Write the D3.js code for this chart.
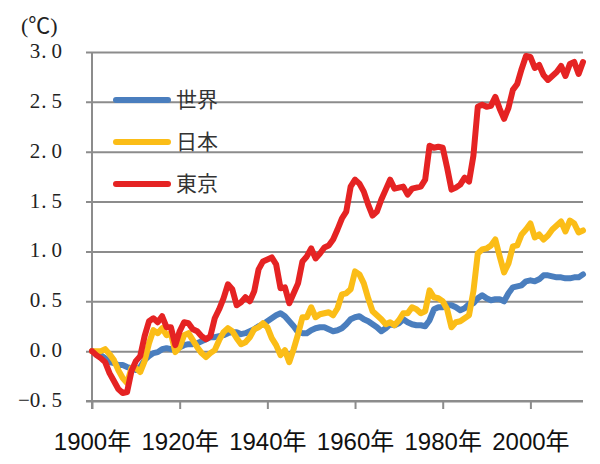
<!DOCTYPE html>
<html>
<head>
<meta charset="utf-8">
<script src="https://cdn.jsdelivr.net/npm/d3@7"></script>
<style>
html, body { margin: 0; padding: 0; background: #fff; }
svg { display: block; }
</style>
</head>
<body>
<svg id="chart" width="600" height="464"></svg>
<script>
const startYear = 1900;
const endYear = 2012;

const seriesNames = ["世界", "日本", "東京"];
const seriesColors = ["#4A7EBE", "#FBBD17", "#E52323"];

const world = [
  0.00,-0.01,-0.04,-0.07,-0.11,-0.12,-0.14,-0.14,-0.16,-0.17,
  -0.19,-0.16,-0.09,-0.05,-0.02,-0.01,0.02,0.03,0.02,0.01,
  0.04,0.06,0.07,0.07,0.08,0.10,0.12,0.14,0.14,0.15,
  0.16,0.18,0.19,0.19,0.17,0.18,0.20,0.22,0.25,0.27,
  0.30,0.33,0.36,0.38,0.35,0.30,0.25,0.19,0.18,0.18,
  0.21,0.23,0.24,0.24,0.22,0.20,0.21,0.23,0.27,0.32,
  0.34,0.35,0.32,0.30,0.27,0.24,0.20,0.23,0.27,0.26,
  0.28,0.32,0.29,0.27,0.26,0.26,0.25,0.31,0.42,0.44,
  0.44,0.46,0.46,0.44,0.41,0.43,0.47,0.48,0.53,0.56,
  0.53,0.51,0.52,0.52,0.50,0.58,0.64,0.65,0.66,0.70,
  0.71,0.70,0.72,0.76,0.76,0.75,0.74,0.74,0.73,0.73,
  0.74,0.74,0.77
];

const japan = [
  0.00,0.00,0.00,0.02,-0.03,-0.09,-0.19,-0.27,-0.32,-0.17,
  -0.17,-0.21,-0.10,0.08,0.21,0.18,0.23,0.16,0.18,-0.01,
  0.04,0.16,0.18,0.11,0.04,-0.02,-0.06,-0.02,0.01,0.11,
  0.19,0.23,0.20,0.13,0.07,0.09,0.14,0.22,0.24,0.28,
  0.24,0.13,0.06,-0.04,0.01,-0.11,0.02,0.17,0.34,0.34,
  0.44,0.34,0.37,0.38,0.39,0.36,0.43,0.57,0.58,0.62,
  0.80,0.77,0.68,0.53,0.40,0.36,0.32,0.27,0.29,0.26,
  0.31,0.38,0.38,0.44,0.42,0.38,0.40,0.61,0.54,0.53,
  0.50,0.42,0.24,0.29,0.30,0.33,0.36,0.60,0.98,1.02,
  1.03,1.06,1.12,0.95,0.79,0.88,1.05,1.06,1.17,1.22,
  1.28,1.14,1.17,1.12,1.16,1.22,1.26,1.30,1.20,1.31,
  1.28,1.19,1.21
];

const tokyo = [
  0.00,-0.04,-0.07,-0.11,-0.22,-0.30,-0.38,-0.42,-0.41,-0.20,
  -0.10,-0.05,0.15,0.30,0.33,0.29,0.35,0.24,0.24,0.06,
  0.20,0.29,0.28,0.22,0.20,0.15,0.12,0.15,0.33,0.42,
  0.53,0.67,0.62,0.46,0.49,0.54,0.50,0.60,0.82,0.90,
  0.92,0.94,0.87,0.63,0.64,0.48,0.58,0.68,0.90,0.95,
  1.03,0.93,0.98,1.04,1.06,1.12,1.22,1.33,1.40,1.65,
  1.72,1.68,1.60,1.47,1.36,1.40,1.52,1.62,1.72,1.63,
  1.64,1.65,1.57,1.63,1.64,1.65,1.72,2.06,2.04,2.05,
  2.04,1.84,1.62,1.64,1.67,1.74,1.70,1.96,2.45,2.47,
  2.45,2.46,2.55,2.43,2.33,2.44,2.62,2.68,2.83,2.96,
  2.95,2.84,2.87,2.77,2.72,2.76,2.80,2.86,2.76,2.88,
  2.90,2.78,2.90
];

const yTicks = [-0.5, 0.0, 0.5, 1.0, 1.5, 2.0, 2.5, 3.0];
const xTicks = [1900, 1920, 1940, 1960, 1980, 2000];
const yUnit = "(℃)";

const years = d3.range(startYear, endYear + 1);
const allSeries = [world, japan, tokyo];

const svg = d3.select("#chart");
const x = d3.scaleLinear().domain([startYear, endYear]).range([92, 583]);
const y = d3.scaleLinear().domain([-0.5, 3.0]).range([401, 52]);

// gridlines (via axis)
const grid = svg.append("g")
  .attr("transform", "translate(583,0)")
  .call(d3.axisLeft(y).tickValues(yTicks).tickSize(497).tickFormat(""));
grid.select(".domain").remove();
grid.selectAll(".tick line").attr("stroke", "#8c8c8c").attr("stroke-width", 2);

// y labels: integer part, period, decimal (period set wide as in the original)
const yl = svg.append("g").selectAll("text")
  .data(yTicks).join("text")
  .attr("x", 62)
  .attr("y", d => y(d) + 1)
  .attr("text-anchor", "end")
  .attr("dominant-baseline", "middle")
  .attr("font-family", "'Liberation Serif', 'DejaVu Serif', serif")
  .attr("font-size", 21)
  .attr("fill", "#222");
yl.each(function(d) {
  const s = d3.format(".1f")(d).replace("-", "−").split(".");
  const t = d3.select(this);
  t.append("tspan").text(s[0]);
  t.append("tspan").attr("dx", 1).text(".");
  t.append("tspan").attr("dx", 5).text(s[1]);
});

svg.append("text")
  .attr("x", 21).attr("y", 33)
  .attr("font-family", "'Liberation Serif', 'Noto Sans CJK JP', serif")
  .attr("font-size", 22)
  .attr("fill", "#222")
  .text(yUnit);

// y axis line
svg.append("line")
  .attr("x1", x(startYear)).attr("x2", x(startYear))
  .attr("y1", y(3.0)).attr("y2", 409)
  .attr("stroke", "#8c8c8c").attr("stroke-width", 2);

// x axis
const xAxis = svg.append("g")
  .attr("transform", `translate(0,${y(-0.5)})`)
  .call(d3.axisBottom(x).tickValues(xTicks).tickSize(8).tickFormat(d => d + "年"));
xAxis.select(".domain").attr("stroke", "#8c8c8c").attr("stroke-width", 2)
  .attr("d", `M86,0H583`);
xAxis.selectAll(".tick line").attr("stroke", "#8c8c8c").attr("stroke-width", 2);
xAxis.selectAll(".tick text")
  .attr("y", 32)
  .attr("dy", "0.71em")
  .attr("font-family", "'Liberation Sans', Arial, 'Noto Sans CJK JP', sans-serif")
  .attr("font-size", 24)
  .attr("fill", "#111");

// lines
const line = d3.line()
  .x((d, i) => x(years[i]))
  .y(d => y(d))
  .curve(d3.curveLinear);

svg.append("g").selectAll("path")
  .data(allSeries).join("path")
  .attr("d", d => line(d))
  .attr("fill", "none")
  .attr("stroke", (d, i) => seriesColors[i])
  .attr("stroke-width", 6)
  .attr("stroke-linejoin", "round")
  .attr("stroke-linecap", "round");

// legend
const legendY = [100, 142, 184];
const lg = svg.append("g").selectAll("g")
  .data(seriesNames).join("g")
  .attr("transform", (d, i) => `translate(0,${legendY[i]})`);
lg.append("line")
  .attr("x1", 116).attr("x2", 168)
  .attr("stroke", (d, i) => seriesColors[i])
  .attr("stroke-width", 6)
  .attr("stroke-linecap", "round");
lg.append("text")
  .attr("x", 176).attr("y", 1)
  .attr("dominant-baseline", "middle")
  .attr("font-family", "'Noto Sans CJK JP', sans-serif")
  .attr("font-size", 21)
  .attr("fill", "#333")
  .text(d => d);
</script>
</body>
</html>
